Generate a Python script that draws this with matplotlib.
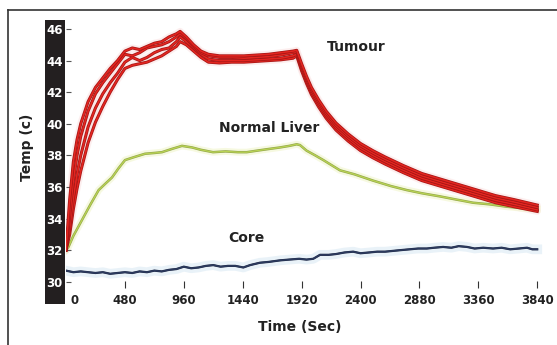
import matplotlib
matplotlib.use("Agg")
import matplotlib.pyplot as plt
import matplotlib.patheffects as pe
from matplotlib.patches import Rectangle
from matplotlib.lines import Line2D
from matplotlib.transforms import ScaledTranslation

# ---------------- data ----------------
t_tumour = [0, 30, 60, 90, 120, 180, 240, 300, 360, 420, 480, 540, 600, 660, 720, 780, 840, 900, 930,
            980, 1040, 1100, 1160, 1250, 1350, 1450, 1550, 1650, 1750, 1850, 1880,
            1920, 1960, 2000, 2060, 2120, 2200, 2300, 2400, 2500, 2600, 2750, 2900, 3050, 3200,
            3350, 3500, 3650, 3840]
tumour_a = [32.0, 35.2, 37.6, 39.0, 40.0, 41.4, 42.3, 42.9, 43.5, 44.0, 44.6, 44.8, 44.7, 44.9, 45.1, 45.2, 45.5, 45.7, 45.85,
            45.5, 45.0, 44.6, 44.4, 44.3, 44.3, 44.3, 44.35, 44.4, 44.5, 44.6, 44.65,
            43.8, 43.0, 42.3, 41.5, 40.8, 40.05, 39.35, 38.75, 38.3, 37.9, 37.35, 36.85, 36.5, 36.15,
            35.8, 35.45, 35.2, 34.85]
tumour_b = [32.0, 34.2, 36.4, 38.0, 39.2, 40.8, 41.9, 42.6, 43.2, 43.8, 44.4, 44.3, 44.5, 44.8, 44.9, 45.0, 45.2, 45.5, 45.7,
            45.4, 44.9, 44.5, 44.3, 44.2, 44.2, 44.15, 44.2, 44.25, 44.35, 44.5, 44.55,
            43.65, 42.85, 42.15, 41.35, 40.65, 39.9, 39.2, 38.6, 38.15, 37.75, 37.2, 36.7, 36.35, 36.0,
            35.65, 35.3, 35.05, 34.7]
tumour_c = [32.0, 33.4, 35.3, 36.8, 38.0, 39.8, 41.0, 41.9, 42.6, 43.2, 43.9, 44.2, 44.0, 44.2, 44.5, 44.7, 44.8, 45.2, 45.5,
            45.2, 44.8, 44.4, 44.1, 44.0, 44.0, 44.0, 44.05, 44.1, 44.15, 44.3, 44.4,
            43.5, 42.7, 42.0, 41.2, 40.5, 39.75, 39.05, 38.45, 38.0, 37.6, 37.05, 36.55, 36.2, 35.85,
            35.5, 35.15, 34.9, 34.55]
tumour_d = [32.0, 33.0, 34.6, 35.9, 37.0, 38.8, 40.1, 41.1, 42.0, 42.8, 43.5, 43.7, 43.8, 43.9, 44.1, 44.3, 44.6, 44.9, 45.2,
            45.0, 44.6, 44.2, 43.9, 43.85, 43.9, 43.9, 43.95, 44.0, 44.05, 44.15, 44.3,
            43.35, 42.55, 41.85, 41.05, 40.35, 39.6, 38.9, 38.3, 37.85, 37.45, 36.9, 36.4, 36.05, 35.7,
            35.35, 35.0, 34.75, 34.45]

t_liver = [0, 20, 60, 130, 200, 266, 320, 375, 430, 481, 560, 644, 720, 782, 860, 945, 1027, 1100, 1198,
           1300, 1400, 1473, 1560, 1650, 1744, 1820, 1880, 1907, 1960, 2030, 2097, 2170, 2233, 2350,
           2502, 2650, 2777, 2900, 3048, 3180, 3317, 3450, 3591, 3720, 3840]
liver = [32.0, 32.2, 32.9, 33.9, 34.9, 35.8, 36.2, 36.6, 37.2, 37.7, 37.9, 38.1, 38.15, 38.2, 38.4, 38.6, 38.5, 38.35, 38.2,
         38.25, 38.2, 38.2, 38.3, 38.4, 38.5, 38.6, 38.7, 38.65, 38.3, 38.0, 37.7, 37.35, 37.05, 36.8,
         36.4, 36.05, 35.8, 35.6, 35.4, 35.2, 35.0, 34.9, 34.75, 34.65, 34.6]

t_core = [0, 60, 120, 180, 240, 300, 360, 420, 480, 540, 600, 660, 720, 780, 840, 900, 960, 1020, 1080,
          1140, 1200, 1260, 1320, 1380, 1445, 1500, 1580, 1650, 1744, 1820, 1900, 1960, 2015, 2070,
          2140, 2200, 2270, 2340, 2400, 2470, 2535, 2600, 2665, 2730, 2800, 2870, 2940, 3000, 3073,
          3140, 3200, 3268, 3330, 3400, 3480, 3550, 3620, 3690, 3757, 3800, 3840]
core = [30.7, 30.6, 30.65, 30.6, 30.55, 30.6, 30.5, 30.55, 30.6, 30.55, 30.65, 30.6, 30.7, 30.65, 30.75, 30.8, 30.95, 30.85, 30.9,
        31.0, 31.05, 30.95, 31.0, 31.0, 30.9, 31.05, 31.2, 31.25, 31.35, 31.4, 31.45, 31.4, 31.45, 31.7,
        31.7, 31.75, 31.85, 31.9, 31.8, 31.85, 31.9, 31.9, 31.95, 32.0, 32.05, 32.1, 32.1, 32.15, 32.2,
        32.15, 32.25, 32.2, 32.1, 32.15, 32.1, 32.15, 32.05, 32.1, 32.15, 32.05, 32.05]

x_ticks = [0, 480, 960, 1440, 1920, 2400, 2880, 3360, 3840]
y_ticks = [30, 32, 34, 36, 38, 40, 42, 44, 46]

# ---------------- figure ----------------
W, H = 557, 345
fig = plt.figure(figsize=(W / 100, H / 100), dpi=100)
fig.patch.set_facecolor("white")

def fx(px):
    return px / W

def fy(py):
    return 1 - py / H

ax = fig.add_axes([fx(66), fy(288), fx(550) - fx(66), fy(20) - fy(288)])
ax.patch.set_visible(False)
for s in ax.spines.values():
    s.set_visible(False)

# black band behind y tick labels
fig.add_artist(Rectangle((fx(45), fy(304)), fx(65) - fx(45), fy(20) - fy(304),
                         transform=fig.transFigure, facecolor="#231f20", edgecolor="none", zorder=-5))
# frame lines (left and top)
fig.add_artist(Line2D([fx(8), fx(8)], [0, fy(10)], transform=fig.transFigure, color="#333333", lw=1.2))
fig.add_artist(Line2D([fx(8), 1], [fy(10), fy(10)], transform=fig.transFigure, color="#333333", lw=1.2))

# halos
for tv in (tumour_a, tumour_b, tumour_c, tumour_d):
    ax.plot(t_tumour, tv, color="#fadada", lw=5, alpha=0.45, solid_capstyle="round", zorder=1)
ax.plot(t_liver, liver, color="#f1f5cc", lw=5, alpha=0.6, zorder=1)
ax.plot(t_core, core, color="#dbeaf4", lw=7, alpha=0.6, zorder=1)

# series
ax.plot(t_core, core, color="#2c3a5e", lw=1.1, zorder=3,
        path_effects=[pe.Stroke(linewidth=1.6, foreground="#1f2945"), pe.Normal()])
ax.plot(t_liver, liver, color="#b9d353", lw=0.9, zorder=3,
        path_effects=[pe.Stroke(linewidth=1.8, foreground="#93a64c"), pe.Normal()])
for tv in (tumour_d, tumour_c, tumour_b, tumour_a):
    ax.plot(t_tumour, tv, color="#e42620", lw=1.1, zorder=4,
            path_effects=[pe.Stroke(linewidth=2.2, foreground="#a51616"), pe.Normal()])

ax.set_xlim(0, 3944)
ax.set_ylim(29.6, 46.57)

ax.set_xticks(x_ticks)
ax.set_xticklabels([str(v) for v in x_ticks])
ax.set_yticks(y_ticks)
ax.set_yticklabels([str(v) for v in y_ticks])

ax.tick_params(axis="x", direction="in", length=5, width=0.8, color="#333333", pad=4,
               labelsize=8.5, labelcolor="#222222")
ax.tick_params(axis="y", direction="in", length=3.3, width=0.8, color="#555555", pad=2.5,
               labelsize=8.5, labelcolor="white")
for lab in ax.get_xticklabels() + ax.get_yticklabels():
    lab.set_fontweight("bold")

# tick at 0: no mark, label shifted right
t0 = ax.xaxis.get_major_ticks()[0]
t0.tick1line.set_visible(False)
t0.label1.set_transform(t0.label1.get_transform() + ScaledTranslation(9 / 100, 0, fig.dpi_scale_trans))

# labels
ax.text(2363, 44.87, "Tumour", fontsize=10, fontweight="bold", color="#222222", ha="center", va="center")
ax.text(1654, 39.7, "Normal Liver", fontsize=10, fontweight="bold", color="#222222", ha="center", va="center")
ax.text(1467, 32.76, "Core", fontsize=10, fontweight="bold", color="#222222", ha="center", va="center")

fig.text(fx(300), fy(327), "Time (Sec)", fontsize=10, fontweight="bold", color="#222222", ha="center", va="center")
fig.text(fx(27), fy(147), "Temp (c)", fontsize=10, fontweight="bold", color="#222222", ha="center", va="center",
         rotation=90)

fig.savefig("out.png", dpi=100)
